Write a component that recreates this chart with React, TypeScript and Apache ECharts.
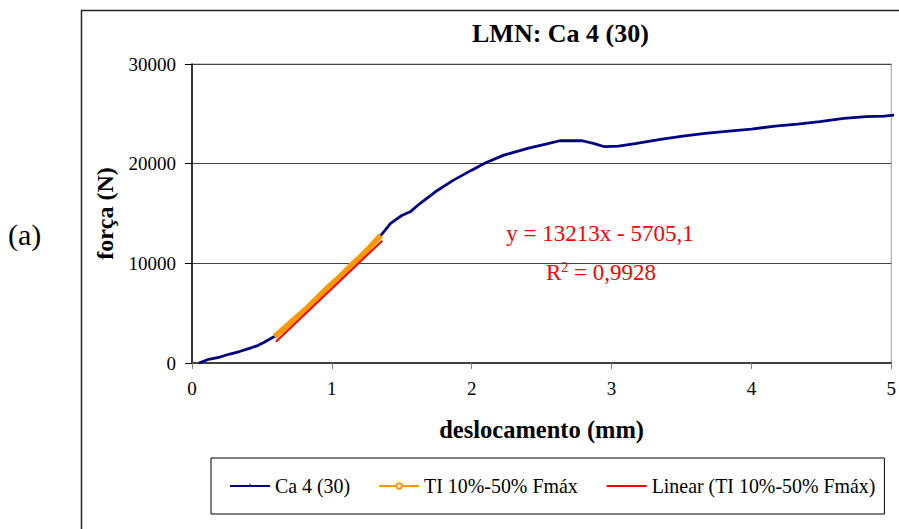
import React, { useEffect, useRef } from "react";
import * as echarts from "echarts";

const TITLE = "LMN: Ca 4 (30)";
const PANEL_LABEL = "(a)";
const X_NAME = "deslocamento (mm)";
const Y_NAME = "força (N)";
const SERIES_NAMES = ["Ca 4 (30)", "TI 10%-50% Fmáx", "Linear (TI 10%-50% Fmáx)"];

// Ca 4 (30) curve (displacement mm, force N)
const caX = [0.05, 0.12, 0.2, 0.27, 0.34, 0.41, 0.47, 0.51, 0.57, 0.59, 0.66, 0.74, 0.82, 0.9, 0.98, 1.06, 1.13, 1.2, 1.27, 1.35, 1.38, 1.42, 1.5, 1.56, 1.63, 1.74, 1.87, 2.0, 2.1, 2.23, 2.4, 2.53, 2.63, 2.7, 2.79, 2.87, 2.95, 3.05, 3.18, 3.35, 3.51, 3.67, 3.84, 4.0, 4.17, 4.33, 4.49, 4.66, 4.82, 4.95, 5.02];
const caY = [0, 370, 600, 900, 1150, 1470, 1750, 2040, 2500, 2650, 3500, 4500, 5500, 6600, 7700, 8700, 9700, 10600, 11600, 12800, 13300, 14000, 14800, 15170, 16000, 17180, 18350, 19350, 20090, 20860, 21530, 21960, 22300, 22300, 22300, 22030, 21700, 21760, 22030, 22430, 22770, 23040, 23270, 23470, 23770, 23970, 24210, 24540, 24710, 24780, 24880];

// TI 10%-50% Fmáx segment
const tiX = [0.59, 0.66, 0.74, 0.82, 0.9, 0.98, 1.06, 1.13, 1.2, 1.27, 1.35];
const tiY = [2650, 3500, 4500, 5500, 6600, 7700, 8700, 9700, 10600, 11600, 12800];

// Linear trendline end points
const linX = [0.6, 1.36];
const linY = [2130, 12260];

const EQ_TEXT = "y = 13213x - 5705,1";
const R2_TEXT = "0,9928";

const X_MIN = 0, X_MAX = 5, X_INTERVAL = 1;
const Y_MIN = 0, Y_MAX = 30000, Y_INTERVAL = 10000;

const FONT = "'Liberation Serif', 'Times New Roman', serif";

export default function App() {
  const ref = useRef<HTMLDivElement>(null);
  useEffect(() => {
    if (!ref.current) return;
    const chart = echarts.init(ref.current, undefined, { renderer: "svg" });
    const pairs = (xs: number[], ys: number[]) => xs.map((x, i) => [x, ys[i]]);
    chart.setOption({
      animation: false,
      backgroundColor: "#fff",
      title: {
        text: TITLE,
        left: 472,
        top: 20,
        padding: 0,
        textStyle: { fontFamily: FONT, fontSize: 26, fontWeight: "bold", color: "#000" },
      },
      grid: {
        left: 192,
        top: 64,
        width: 701,
        height: 299,
        show: true,
        borderColor: "#999",
        borderWidth: 1,
        backgroundColor: "transparent",
      },
      legend: {
        left: 211,
        top: 458,
        orient: "horizontal",
        padding: [18, 9, 18, 18],
        borderColor: "#000",
        borderWidth: 1,
        itemWidth: 40,
        itemHeight: 7,
        itemGap: 28,
        textStyle: { fontFamily: FONT, fontSize: 19.9, color: "#000" },
        lineStyle: { width: 2 },
        data: SERIES_NAMES,
      },
      xAxis: {
        type: "value",
        min: X_MIN,
        max: X_MAX,
        interval: X_INTERVAL,
        name: X_NAME,
        nameLocation: "middle",
        nameGap: 54,
        nameTextStyle: { fontFamily: FONT, fontSize: 24.5, fontWeight: "bold", color: "#000" },
        axisLine: { show: true, lineStyle: { color: "#404040", width: 2 } },
        axisTick: { show: true, length: 6, lineStyle: { color: "#808080" } },
        axisLabel: { fontFamily: FONT, fontSize: 19, color: "#000", margin: 16, formatter: (v: number) => String(v) },
        splitLine: { show: false },
      },
      yAxis: {
        type: "value",
        min: Y_MIN,
        max: Y_MAX,
        interval: Y_INTERVAL,
        name: Y_NAME,
        nameLocation: "middle",
        nameGap: 75,
        nameTextStyle: { fontFamily: FONT, fontSize: 24, fontWeight: "bold", color: "#000" },
        axisLine: { show: true, lineStyle: { color: "#000", width: 1.5 } },
        axisTick: { show: true, length: 7, lineStyle: { color: "#000" } },
        axisLabel: { fontFamily: FONT, fontSize: 19, color: "#000", margin: 16, formatter: (v: number) => String(v) },
        splitLine: { show: true, lineStyle: { color: "#444", width: 1.2 } },
      },
      series: [
        {
          name: SERIES_NAMES[0],
          type: "line",
          data: pairs(caX, caY),
          showSymbol: false,
          symbol: "path://M0 0M10 10M4 1H6V5H4Z",
          clip: false,
          lineStyle: { color: "#000080", width: 2.8 },
          itemStyle: { color: "#000080" },
          z: 2,
        },
        {
          name: SERIES_NAMES[1],
          type: "line",
          data: pairs(tiX, tiY),
          showSymbol: false,
          symbol: "emptyCircle",
          lineStyle: { color: "#FF9900", width: 5.5 },
          itemStyle: { color: "#FF9900" },
          z: 3,
        },
        {
          name: SERIES_NAMES[2],
          type: "line",
          data: pairs(linX, linY),
          showSymbol: false,
          symbol: "path://M0 0M10 10M0 4.5H10V5.5H0Z",
          lineStyle: { color: "#FF0000", width: 2 },
          itemStyle: { color: "#FF0000" },
          z: 4,
        },
      ],
      graphic: [
        {
          type: "polyline",
          z: 100,
          shape: { points: [[81.5, 529], [81.5, 10.5], [899, 10.5]] },
          style: { stroke: "#222", lineWidth: 1.5, fill: "none" },
        },
        {
          type: "text",
          z: 100,
          x: 8,
          y: 234,
          style: {
            text: PANEL_LABEL,
            fontFamily: FONT,
            fontSize: 30,
            fill: "#000",
            verticalAlign: "middle",
            align: "left",
          },
        },
        {
          type: "group",
          z: 100,
          children: [
            {
              type: "rect",
              shape: { x: 503, y: 216, width: 195, height: 74 },
              style: { fill: "#fff" },
            },
            {
              type: "text",
              x: 600,
              y: 233,
              style: {
                text: EQ_TEXT,
                fontFamily: FONT,
                fontSize: 23,
                fill: "#ff0000",
                align: "center",
                verticalAlign: "middle",
              },
            },
            {
              type: "text",
              x: 601,
              y: 272,
              style: {
                text: "{b|R}{s|2}{b| = " + R2_TEXT + "}",
                align: "center",
                verticalAlign: "middle",
                rich: {
                  b: { fontFamily: FONT, fontSize: 23, fill: "#ff0000" },
                  s: { fontFamily: FONT, fontSize: 14, fill: "#ff0000", verticalAlign: "top", padding: [0, 0, 4, 0] },
                },
              },
            },
          ],
        },
      ],
    });
    return () => chart.dispose();
  }, []);
  return (
    <div
      ref={ref}
      style={{ position: "absolute", left: 0, top: 0, width: 899, height: 529, background: "#fff" }}
    />
  );
}
